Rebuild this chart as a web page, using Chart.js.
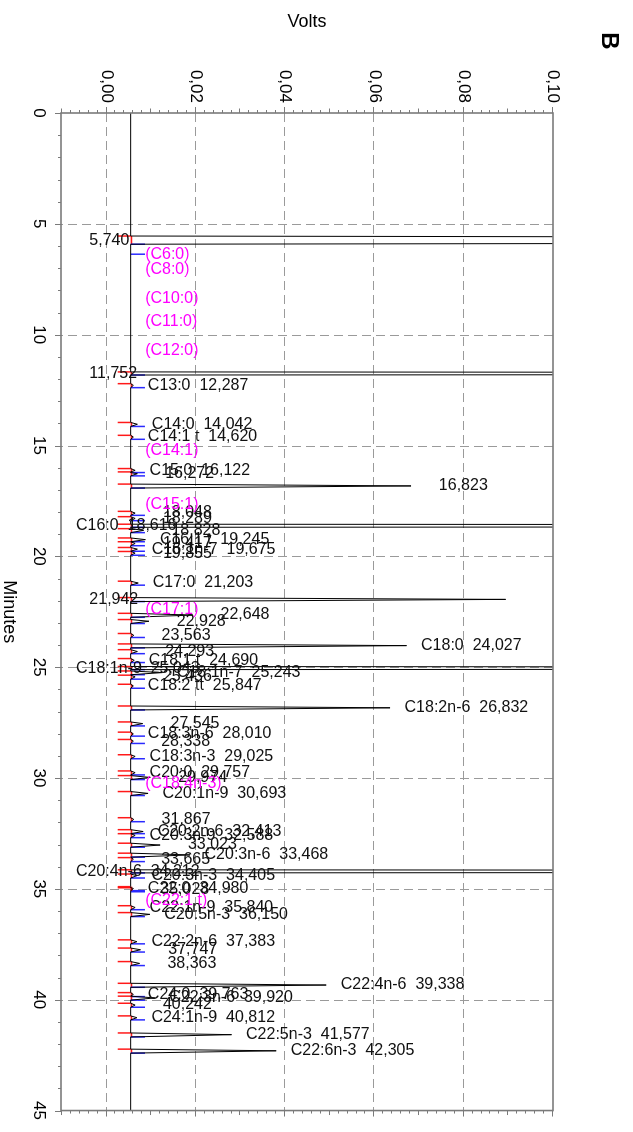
<!DOCTYPE html>
<html><head><meta charset="utf-8">
<script src="https://cdn.jsdelivr.net/npm/chart.js@4"></script>
<style>
html,body{margin:0;padding:0;background:#fff;overflow:hidden;width:633px;height:1132px;}
#wrap{position:absolute;left:0;top:0;width:1132px;height:633px;transform-origin:0 0;transform:translate(633px,0) rotate(90deg);background:#fff;}
canvas{display:block;}
</style></head><body>
<div id="wrap"><canvas id="c" width="1132" height="633"></canvas></div>
<script>
// ---------- data ----------
const minuteTicks = [0,5,10,15,20,25,30,35,40,45];
const minuteLabels = ["0","5","10","15","20","25","30","35","40","45"];
const voltTicks = [0,0.02,0.04,0.06,0.08,0.10];
const voltLabels = ["0,00","0,02","0,04","0,06","0,08","0,10"];
const baselineVolts = 0.0054;

const peakTimes = [5.740,11.752,12.287,14.042,14.620,16.122,16.272,16.823,18.048,18.289,18.616,18.828,19.245,19.417,19.675,19.855,21.203,21.942,22.648,22.928,23.563,24.027,24.293,24.690,25.043,25.243,25.436,25.847,26.832,27.545,28.010,28.338,29.025,29.757,29.974,30.693,31.867,32.413,32.588,33.023,33.468,33.665,34.212,34.405,34.980,35.028,35.840,36.150,37.383,37.747,38.363,39.338,39.763,39.920,40.242,40.812,41.577,42.305];
const peakNames = ["","","C13:0","C14:0","C14:1 t","C15:0","","","","","C16:0","","C16:1 t","","C16:1n-7","","C17:0","","","","","C18:0","","C18:1 t","C18:1n-9","C18:1n-7","","C18:2 tt","C18:2n-6","","C18:3n-6","","C18:3n-3","C20:0","","C20:1n-9","","C20:2n-6","C20:3n-9","","C20:3n-6","","C20:4n-6","C20:3n-3","C22:0","","C22:1n-9","C20:5n-3","C22:2n-6","","","C22:4n-6","C24:0","C22:3n-6","","C24:1n-9","C22:5n-3","C22:6n-3"];
const peakHeights = [0.60,0.60,0.0060,0.0069,0.0060,0.0064,0.0069,0.0682,0.0064,0.0064,0.60,0.0083,0.0087,0.0064,0.0069,0.0064,0.0071,0.0894,0.0193,0.0095,0.0061,0.0672,0.0069,0.0062,0.60,0.0125,0.0064,0.0060,0.0635,0.0081,0.0060,0.0060,0.0064,0.0064,0.0098,0.0093,0.0061,0.0082,0.0064,0.0120,0.0187,0.0060,0.60,0.0068,0.0060,0.0058,0.0064,0.0097,0.0068,0.0076,0.0074,0.0492,0.0060,0.0108,0.0064,0.0068,0.0280,0.0380];
const peakStarts = [5.55,11.68,12.21,13.96,14.54,16.04,16.19,16.74,17.97,18.21,18.55,18.75,19.17,19.34,19.60,19.78,21.12,21.86,22.57,22.85,23.48,23.95,24.21,24.61,24.97,25.17,25.36,25.77,26.75,27.47,27.93,28.26,28.95,29.68,29.89,30.61,31.79,32.33,32.51,32.94,33.39,33.59,34.14,34.33,34.90,34.95,35.76,36.07,37.30,37.67,38.28,39.26,39.68,39.84,40.16,40.73,41.50,42.23];
const peakEnds = [5.92,11.82,12.39,14.14,14.72,16.22,16.37,16.92,18.15,18.39,18.69,18.93,19.34,19.52,19.77,19.95,21.30,22.04,22.75,23.03,23.66,24.13,24.39,24.79,25.11,25.34,25.54,25.95,26.93,27.65,28.11,28.44,29.13,29.86,30.07,30.79,31.97,32.51,32.69,33.12,33.57,33.77,34.28,34.51,35.08,35.13,35.94,36.25,37.48,37.85,38.46,39.44,39.86,40.02,40.34,40.91,41.68,42.41];

const expectedNames = ["(C6:0)","(C8:0)","(C10:0)","(C11:0)","(C12:0)","(C14:1)","(C15:1)","(C17:1)","(C18:4n-3)","(C22:1 t)"];
const expectedTimes = [6.37,7.08,8.39,9.41,10.71,15.25,17.67,22.38,30.26,35.55];

// ---------- trace table built from the peak table ----------
const trace = [{x:0,y:baselineVolts},{x:45,y:baselineVolts}];
peakTimes.forEach((t,i)=>{
  trace.push({x:peakStarts[i],y:baselineVolts});
  trace.push({x:t,y:peakHeights[i]});
  trace.push({x:peakEnds[i],y:baselineVolts});
});
trace.sort((a,b)=>a.x-b.x);

const FONT = '"Liberation Sans", Arial, sans-serif';
const fmt = t => t.toFixed(3).replace('.', ',');

const decor = {
  id:'decor',
  beforeDatasetsDraw(chart){
    const {ctx, chartArea:a, scales:{x,y}} = chart;
    ctx.save();
    ctx.strokeStyle = '#9a9a9a'; ctx.lineWidth = 1; ctx.setLineDash([9,5]);
    minuteTicks.forEach(m=>{
      if (m<=x.min || m>=x.max) return;
      const px = Math.round(x.getPixelForValue(m))+0.5;
      ctx.beginPath(); ctx.moveTo(px,a.top); ctx.lineTo(px,a.bottom); ctx.stroke();
    });
    voltTicks.forEach(v=>{
      if (v<=y.min || v>=y.max) return;
      const py = Math.round(y.getPixelForValue(v))+0.5;
      ctx.beginPath(); ctx.moveTo(a.left,py); ctx.lineTo(a.right,py); ctx.stroke();
    });
    ctx.setLineDash([]);
    // integration markers and baselines
    const yb = y.getPixelForValue(baselineVolts);
    const yr = y.getPixelForValue(0.0025);
    const yu = y.getPixelForValue(0.0086);
    peakTimes.forEach((t,i)=>{
      const ps = x.getPixelForValue(peakStarts[i]);
      const pe = x.getPixelForValue(peakEnds[i]);
      ctx.strokeStyle = 'rgba(255,0,0,0.9)'; ctx.lineWidth = 1.6;
      ctx.beginPath(); ctx.moveTo(ps,yb-0.8); ctx.lineTo(pe,yb-0.8); ctx.stroke();
      ctx.lineWidth = 1.5;
      ctx.beginPath(); ctx.moveTo(ps,yr); ctx.lineTo(ps,yb); ctx.stroke();
      ctx.strokeStyle = '#2a2aff';
      ctx.beginPath(); ctx.moveTo(pe,yb); ctx.lineTo(pe,yu); ctx.stroke();
    });
    // marker of the first expected compound
    const pc = x.getPixelForValue(expectedTimes[0]);
    ctx.strokeStyle = '#2a2aff';
    ctx.beginPath(); ctx.moveTo(pc,yb); ctx.lineTo(pc,yu); ctx.stroke();
    ctx.restore();
  },
  afterDatasetsDraw(chart){
    const {ctx, chartArea:a, scales:{x,y}} = chart;
    ctx.save();
    // box
    ctx.strokeStyle = '#7a7a7a'; ctx.lineWidth = 1.6;
    ctx.strokeRect(a.left, a.top, a.right-a.left, a.bottom-a.top);
    // tick marks
    ctx.lineWidth = 1; ctx.strokeStyle = '#7a7a7a';
    for (let m=0; m<=45; m++){
      const px = Math.round(x.getPixelForValue(m))+0.5;
      const len = (m%5===0) ? 6 : 3;
      ctx.beginPath(); ctx.moveTo(px,a.bottom); ctx.lineTo(px,a.bottom+len); ctx.stroke();
    }
    for (let k=-5; k<=50; k++){
      const v = k*0.002;
      if (v < y.min-1e-9) continue;
      const py = Math.round(y.getPixelForValue(v))+0.5;
      const len = (k%10===0) ? 6 : (k%5===0 ? 4.5 : 3);
      ctx.beginPath(); ctx.moveTo(a.left,py); ctx.lineTo(a.left-len,py); ctx.stroke();
      ctx.beginPath(); ctx.moveTo(a.right,py); ctx.lineTo(a.right+len,py); ctx.stroke();
    }
    // peak labels
    ctx.font = '16px ' + FONT;
    ctx.textAlign = 'left'; ctx.textBaseline = 'middle';
    const drawLabel = (t, h, text, color) => {
      const px = x.getPixelForValue(t);
      let py = y.getPixelForValue(Math.min(h, y.max)) - 14.5;
      const w = ctx.measureText(text).width;
      if (py - w < a.top) py = a.bottom - 15;
      ctx.save(); ctx.fillStyle = color;
      ctx.translate(px, py); ctx.rotate(-Math.PI/2);
      ctx.fillText(text, 0, 0);
      ctx.restore();
    };
    peakTimes.forEach((t,i)=>{
      const text = peakNames[i] ? peakNames[i] + '  ' + fmt(t) : '   ' + fmt(t);
      drawLabel(t, peakHeights[i], text, '#111');
    });
    expectedTimes.forEach((t,i)=> drawLabel(t, baselineVolts, expectedNames[i], '#ff00ff'));
    // titles
    ctx.fillStyle = '#000';
    ctx.font = '18px ' + FONT; ctx.textAlign = 'center'; ctx.textBaseline = 'middle';
    ctx.fillText('Minutes', (a.left+a.right)/2, 624);
    ctx.save(); ctx.translate(22, (a.top+a.bottom)/2); ctx.rotate(-Math.PI/2);
    ctx.fillText('Volts', 0, 0); ctx.restore();
    ctx.font = 'bold 24px ' + FONT;
    ctx.fillText('B', 41, 24);
    ctx.restore();
  }
};

new Chart(document.getElementById('c'), {
  type: 'scatter',
  data: { datasets: [{
    data: trace, showLine: true, borderColor: '#000', borderWidth: 1,
    pointRadius: 0, pointHoverRadius: 0, tension: 0
  }]},
  options: {
    responsive: false, animation: false, devicePixelRatio: 1,
    layout: { padding: { top: 80, right: 16.5, left: 0, bottom: 0 } },
    plugins: { legend: {display:false}, tooltip: {enabled:false} },
    scales: {
      x: {
        type: 'linear', position: 'bottom', min: 0, max: 45,
        afterBuildTicks: s => { s.ticks = minuteTicks.map(v=>({value:v})); },
        afterFit: s => { s.height = 61; },
        grid: { display: false, drawTicks: false },
        border: { display: false },
        ticks: { autoSkip:false, maxRotation:0, padding: 12, color:'#000',
                 font: { family: FONT, size: 17 },
                 callback: (v,i) => minuteLabels[i] }
      },
      y: {
        type: 'linear', position: 'left', min: -0.0102, max: 0.10,
        afterBuildTicks: s => { s.ticks = voltTicks.map(v=>({value:v})); },
        afterFit: s => { s.width = 113; },
        grid: { display: false, drawTicks: false },
        border: { display: false },
        ticks: { autoSkip:false, padding: 10, color:'#000',
                 font: { family: FONT, size: 17 },
                 callback: (v,i) => voltLabels[i] }
      }
    }
  },
  plugins: [decor]
});
</script>
</body></html>
